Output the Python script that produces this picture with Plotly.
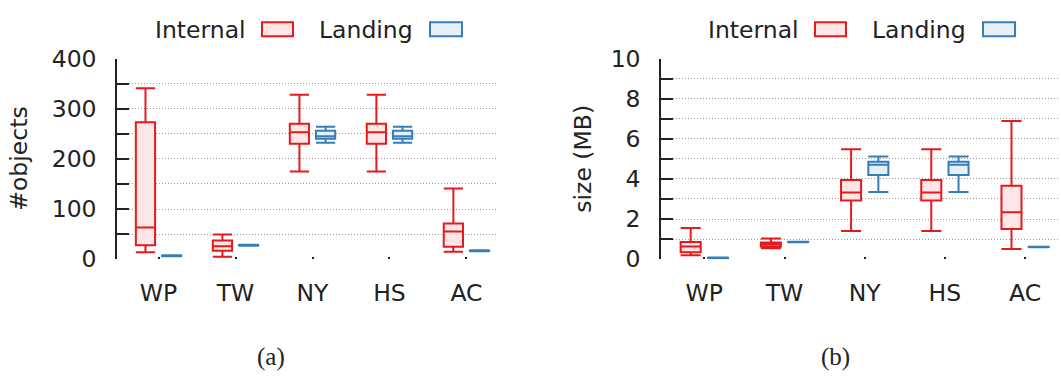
import plotly.graph_objects as go
from plotly.subplots import make_subplots

W, H = 1061, 387

sites = ["WP", "TW", "NY", "HS", "AC"]

# (a) number of objects per page
obj_internal_low = [14, 5, 175, 175, 15]
obj_internal_q1 = [28, 17, 230, 230, 25]
obj_internal_med = [63, 26, 253, 253, 55]
obj_internal_q3 = [273, 37, 270, 270, 71]
obj_internal_high = [341, 49, 328, 328, 141]

obj_landing_low = [6, 27, 232, 232, 16]
obj_landing_q1 = [6.5, 27.5, 240, 240, 16.5]
obj_landing_med = [7, 28, 245, 245, 17]
obj_landing_q3 = [7.5, 28.5, 256, 256, 17.5]
obj_landing_high = [8, 29, 264, 264, 18]

# (b) page size in MB
size_internal_low = [0.2, 0.55, 1.4, 1.4, 0.51]
size_internal_q1 = [0.35, 0.63, 2.92, 2.92, 1.5]
size_internal_med = [0.63, 0.74, 3.32, 3.32, 2.34]
size_internal_q3 = [0.86, 0.83, 3.94, 3.94, 3.66]
size_internal_high = [1.55, 1.03, 5.48, 5.48, 6.89]

size_landing_low = [0.04, 0.85, 3.35, 3.35, 0.6]
size_landing_q1 = [0.05, 0.855, 4.2, 4.2, 0.605]
size_landing_med = [0.06, 0.86, 4.71, 4.71, 0.61]
size_landing_q3 = [0.07, 0.865, 4.85, 4.85, 0.615]
size_landing_high = [0.08, 0.87, 5.12, 5.12, 0.62]

RED = "#e41a1c"
RED_FILL = "#fce6e7"
BLUE = "#377eb8"
BLUE_FILL = "#e8f0f7"
TXT = "#222222"
FONT = "DejaVu Sans"
FS = 23.5

BOX_W = 0.25       # box width in category units
BOX_SHIFT = 0.17   # half distance between the two boxes of a site

fig = make_subplots(rows=1, cols=2)

idx = list(range(len(sites)))


def add_box(col, shift, low, q1, med, q3, high, color, fill, name):
    fig.add_trace(
        go.Box(
            x=[i + shift for i in idx], lowerfence=low, q1=q1, median=med,
            q3=q3, upperfence=high, width=BOX_W,
            name=name, boxpoints=False, whiskerwidth=1,
            line=dict(color=color, width=2), fillcolor=fill,
            showlegend=False, hoverinfo="skip",
        ),
        row=1, col=col,
    )


add_box(1, -BOX_SHIFT, obj_internal_low, obj_internal_q1, obj_internal_med,
        obj_internal_q3, obj_internal_high, RED, RED_FILL, "Internal")
add_box(1, BOX_SHIFT, obj_landing_low, obj_landing_q1, obj_landing_med,
        obj_landing_q3, obj_landing_high, BLUE, BLUE_FILL, "Landing")
add_box(2, -BOX_SHIFT, size_internal_low, size_internal_q1, size_internal_med,
        size_internal_q3, size_internal_high, RED, RED_FILL, "Internal")
add_box(2, BOX_SHIFT, size_landing_low, size_landing_q1, size_landing_med,
        size_landing_q3, size_landing_high, BLUE, BLUE_FILL, "Landing")

ydom = [(H - 264.3) / H, (H - 48) / H]
xdoms = [[117 / W, 498 / W], [661 / W, 1058 / W]]

common_x = dict(
    range=[-0.54, 4.41], tickvals=idx, ticktext=sites,
    showline=False, showgrid=False,
    zeroline=False, ticks="inside", ticklen=2, tickwidth=2, tickcolor=TXT,
    tickfont=dict(family=FONT, size=FS, color=TXT), ticklabelstandoff=17,
)
grid = dict(showgrid=True, gridcolor="#9a9a9a", griddash="1px,2px",
            gridwidth=1)


def yaxis(rng, major, minor):
    return dict(
        range=rng, dtick=major, tick0=0, domain=ydom, showline=True,
        linecolor=TXT, linewidth=1.5, ticks="inside", ticklen=12,
        tickwidth=1.5, tickcolor=TXT, zeroline=False,
        tickfont=dict(family=FONT, size=FS, color=TXT), ticklabelstandoff=14,
        minor=dict(dtick=minor, tick0=0, ticks="inside", ticklen=12,
                   tickwidth=1.5, tickcolor=TXT, **grid),
        **grid,
    )


fig.update_layout(
    width=W, height=H, margin=dict(l=0, r=0, t=0, b=0),
    paper_bgcolor="white", plot_bgcolor="white",
    boxmode="overlay",
    xaxis=dict(domain=xdoms[0], **common_x),
    xaxis2=dict(domain=xdoms[1], **common_x),
    yaxis=yaxis([0, 400], 100, 50),
    yaxis2=yaxis([0, 10], 2, 1),
)

ann = []
shapes = []


def text(x, y, s, anchor="center", angle=0, family=FONT, size=FS):
    ann.append(dict(
        x=x / W, y=(H - y) / H, xref="paper", yref="paper", text=s,
        showarrow=False, xanchor=anchor, yanchor="middle", textangle=angle,
        font=dict(family=family, size=size, color=TXT),
    ))


def swatch(x0, x1, y0, y1, color, fill):
    shapes.append(dict(
        type="rect", xref="paper", yref="paper",
        x0=x0 / W, x1=x1 / W, y0=(H - y1) / H, y1=(H - y0) / H,
        line=dict(color=color, width=2), fillcolor=fill,
    ))


# axis titles
text(19, 156, "#objects", angle=-90)
text(583, 156, "size (MB)", angle=-90)

# legends drawn above each panel: label followed by its sample box
for lx in (0, 553):
    text(248 + lx, 17, "Internal", anchor="right")
    swatch(262 + lx, 293 + lx, 9, 24, RED, RED_FILL)
    text(415 + lx, 17, "Landing", anchor="right")
    swatch(430 + lx, 462 + lx, 9, 24, BLUE, BLUE_FILL)

# panel captions
text(271, 370, "(a)", family="Liberation Serif", size=25)
text(835, 370, "(b)", family="Liberation Serif", size=25)

fig.update_layout(annotations=ann, shapes=shapes)

fig.write_html("out.html")
